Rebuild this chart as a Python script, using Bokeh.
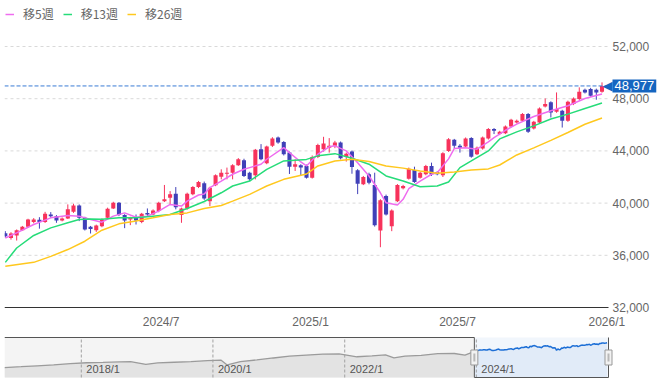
import pandas as pd
from bokeh.plotting import figure
from bokeh.layouts import column
from bokeh.models import (ColumnDataSource, Range1d, FixedTicker, Label, Legend, LegendItem)
from bokeh.embed import file_html
from bokeh.resources import INLINE
from bokeh.core.properties import value

# ---------------- data (weekly candles) ----------------
first_week = "2023-12-22"
opens = [37690, 37330, 37520, 37920, 38180, 38560, 38720, 38560, 39130, 39000,
         38670, 38820, 39330, 39820, 38870, 38180, 37920, 38230, 38870, 39590,
         40020, 39080, 38750, 38870, 38560, 39250, 39130, 39390, 40150, 40410,
         40720, 39080, 39590, 40670, 41230, 41520, 40150, 41360, 42020, 42250,
         42330, 42900, 43290, 42330, 42130, 44130, 43050, 44390, 45020, 44690,
         43870, 42790, 42900, 42850, 41950, 43540, 44130, 44250, 44390, 44640,
         43540, 43950, 42520, 41440, 42210, 41390, 37900, 40540, 38230, 40150,
         41130, 41870, 42540, 41950, 42210, 42850, 42380, 42130, 44000, 44850,
         44390, 44330, 44980, 43750, 44180, 44950, 45670, 45290, 45360, 45870,
         46180, 46310, 46820, 45720, 46180, 47410, 47720, 47000, 47080, 46310,
         47590, 47980, 48690, 48750, 48690, 48540]
highs = [37850, 37770, 37980, 38250, 38800, 38850, 38920, 39330, 39310, 39080,
         38900, 39900, 39950, 39900, 38950, 38250, 38350, 38830, 39650, 40100,
         40080, 39150, 38950, 39130, 39250, 39590, 39520, 40100, 41390, 40920,
         41230, 39650, 40800, 41300, 41700, 41650, 41250, 42200, 42590, 42720,
         42980, 43450, 43400, 42400, 44150, 44520, 44400, 45050, 45100, 44750,
         43950, 43360, 42980, 42950, 43650, 44550, 45080, 44980, 44770, 44720,
         43870, 44030, 42600, 42080, 42330, 42330, 40300, 40650, 39520, 41460,
         41400, 42720, 42790, 42400, 42930, 43100, 42450, 43900, 44980, 44920,
         44520, 45030, 45050, 44330, 45100, 45750, 45750, 45540, 45950, 46460,
         46400, 46900, 46900, 46300, 47330, 48020, 47800, 48480, 47150, 47850,
         48100, 48870, 48770, 48830, 48770, 49250]
lows = [37350, 37200, 37130, 37880, 38120, 38450, 38040, 38480, 38870, 38490,
        38600, 38780, 39250, 38620, 37900, 37670, 37790, 38150, 38800, 39550,
        39000, 38080, 38310, 38360, 38460, 39000, 39080, 39300, 40080, 39900,
        39520, 38490, 39500, 40600, 41150, 40250, 39770, 41300, 41820, 41820,
        41820, 42850, 42000, 41690, 41820, 43280, 42980, 44300, 44550, 43650,
        42230, 42460, 42080, 41880, 41880, 43450, 43950, 43870, 44210, 43350,
        43180, 42250, 40690, 41380, 41440, 38200, 36620, 39050, 37850, 40080,
        41050, 41800, 41550, 41880, 42130, 42080, 42130, 42000, 43920, 44180,
        43870, 44250, 43480, 43680, 44100, 44870, 45290, 45210, 45290, 45800,
        46100, 46230, 45380, 45640, 46100, 47330, 46560, 46920, 45790, 46230,
        47510, 47900, 48400, 48150, 47920, 48460]
closes = [37460, 37670, 37920, 38180, 38750, 38750, 38560, 39180, 39000, 38670,
          38820, 39520, 39820, 38870, 37980, 38020, 38290, 38750, 39560, 40020,
          39080, 38670, 38870, 38670, 39180, 39130, 39440, 40020, 40290, 40670,
          39690, 39590, 40720, 41230, 41620, 40350, 41180, 42130, 42330, 42330,
          42900, 43360, 42080, 41820, 44080, 43360, 44330, 44950, 44640, 43750,
          42790, 42980, 42720, 41950, 43540, 44460, 44560, 44390, 44640, 43440,
          43790, 42770, 41490, 42000, 41560, 38310, 40210, 39130, 39440, 41390,
          41310, 42640, 41620, 42330, 42850, 42210, 42210, 43820, 44900, 44390,
          44250, 44950, 43560, 44250, 45020, 45670, 45540, 45460, 45870, 46380,
          46310, 46820, 45460, 46230, 47250, 47590, 46950, 47210, 46310, 47770,
          48020, 48540, 48480, 48230, 48480, 48977]

# moving averages (week index -> value)
ma5_wk = [0, 2, 5, 8, 11, 13, 15, 17, 19, 21, 23, 25, 27, 29, 31, 32, 34, 35, 36, 38,
          40, 42, 43, 45, 46, 49, 50, 52, 53, 55, 57, 58, 60, 62, 64, 66, 67, 69, 70, 71,
          73, 75, 76, 78, 79, 81, 83, 85, 86, 88, 90, 93, 96, 99, 102, 105]
ma5_val = [37330, 37720, 38360, 38870, 39050, 39000, 38750, 38540, 39000, 39250,
           38920, 39000, 39390, 39900, 39770, 40150, 40620, 40690, 41180, 41690,
           42210, 42590, 42720, 42980, 43360, 44250, 43870, 43150, 42850, 43750,
           44310, 44390, 44000, 43100, 42080, 40790, 40020, 39850, 40290, 41100,
           41690, 42210, 42330, 43390, 44180, 44250, 44130, 44690, 45020, 45580,
           46050, 46640, 47080, 47460, 48020, 48360]
ma13_wk = [0, 2, 5, 8, 11, 13, 15, 17, 20, 23, 26, 29, 32, 35, 38, 40, 43, 46, 49, 53,
           55, 58, 61, 64, 67, 70, 73, 76, 78, 80, 82, 85, 87, 90, 93, 96, 99, 102, 105]
ma13_val = [35460, 36560, 37520, 38100, 38490, 38750, 38790, 38770, 38870, 38870,
            39000, 39130, 39590, 40120, 40790, 41310, 41690, 42590, 43230, 43350,
            43620, 43790, 43440, 42980, 42080, 41690, 41250, 41310, 41620, 42720,
            43230, 44000, 44920, 45460, 45920, 46440, 46820, 47250, 47670]
ma26_wk = [0, 5, 8, 11, 14, 17, 20, 23, 26, 29, 32, 35, 38, 40, 43, 46, 49, 53, 55, 58,
           61, 64, 67, 70, 73, 76, 79, 82, 85, 87, 90, 93, 96, 99, 102, 105]
ma26_val = [35160, 35460, 35920, 36440, 37080, 37920, 38410, 38620, 38870, 39130,
            39250, 39580, 39820, 40150, 40670, 41310, 41820, 42230, 42850, 43230,
            43360, 43180, 42850, 42680, 42460, 42290, 42390, 42540, 42620, 42920,
            43690, 44230, 44810, 45410, 46040, 46520]

series_names = ["移5週", "移13週", "移26週"]

y_ticks = [32000, 36000, 40000, 44000, 48000, 52000]
x_tick_dates = ["2024-07-01", "2025-01-01", "2025-07-01", "2026-01-01"]
x_tick_labels = ["2024/7", "2025/1", "2025/7", "2026/1"]

# navigator: longer history (read from the small overview strip)
nav_hist_dates = ["2016-11-01", "2017-02-01", "2017-05-01", "2017-08-01", "2017-11-01",
                  "2018-02-01", "2018-05-01", "2018-08-01", "2018-10-01", "2018-12-25",
                  "2019-03-01", "2019-06-01", "2019-09-01", "2019-12-01", "2020-02-14",
                  "2020-03-20", "2020-06-01", "2020-09-01", "2020-12-01", "2021-03-01",
                  "2021-06-01", "2021-09-01", "2021-12-01", "2022-03-10", "2022-06-01",
                  "2022-08-15", "2022-10-01", "2022-12-01", "2023-03-01", "2023-06-01",
                  "2023-09-01", "2023-10-30", "2023-12-15"]
nav_hist_vals = [14000, 15200, 16500, 17800, 19500, 20800, 21200, 21900, 22400, 18600,
                 20500, 21500, 22300, 23800, 24500, 17700, 22400, 24800, 27500, 30000,
                 31600, 33000, 33200, 29200, 30500, 31800, 27500, 30200, 31200, 33500,
                 33800, 31500, 36000]
nav_tick_dates = ["2018-01-01", "2020-01-01", "2022-01-01", "2024-01-01"]
nav_tick_labels = ["2018/1", "2020/1", "2022/1", "2024/1"]

# ---------------- styling constants ----------------
UP = "#f7325b"
DOWN = "#4040b8"
MA_COLORS = ["#ef6cef", "#26dc79", "#ffc81e"]
NUM_FONT = "Liberation Sans"
CJK_FONT = "Noto Sans CJK JP"
W = 657
FRAME_L = 4            # left edge of the plotting area
PLOT_R = 608           # right edge of the candle area (labels live to its right)
PLOT_TOP = 46          # pixel row of the top tick
PLOT_BOT = 307         # pixel row of the bottom tick / axis line
FRAME_BOT = 314        # bottom of the (extended) frame
BOTTOM = 21

dates = pd.date_range(first_week, periods=len(closes), freq="7D")
colors = [UP if c >= o else DOWN for o, c in zip(opens, closes)]
src = ColumnDataSource(dict(date=dates, open=opens, high=highs, low=lows,
                            close=closes, color=colors))

x_start = pd.Timestamp("2023-12-21")
x_end = pd.Timestamp("2026-01-03")

# both frames span FRAME_L..W; data areas end at PLOT_R, the strip to the right
# holds the tick texts and the price callout (so nothing is clipped)
frame_w = W - FRAME_L
content_w = PLOT_R - FRAME_L
x_range_end = x_start + (x_end - x_start) * frame_w / content_w
ppx = (y_ticks[-1] - y_ticks[0]) / (PLOT_BOT - PLOT_TOP)
y_lo = y_ticks[0] - (FRAME_BOT - PLOT_BOT) * ppx
y_hi = y_ticks[-1] + PLOT_TOP * ppx

p = figure(width=W, height=FRAME_BOT + BOTTOM, x_axis_type="datetime",
           x_range=Range1d(x_start, x_range_end), y_range=Range1d(y_lo, y_hi),
           y_axis_location=None, output_backend="svg", toolbar_location=None,
           min_border_left=FRAME_L, min_border_right=0, min_border_top=0,
           min_border_bottom=BOTTOM, outline_line_color=None)
p.grid.grid_line_color = None

tick_ms = [pd.Timestamp(d).value / 1e6 for d in x_tick_dates]
p.xaxis.ticker = FixedTicker(ticks=tick_ms)
p.xaxis.major_label_overrides = {t: l for t, l in zip(tick_ms, x_tick_labels)}
p.xaxis.axis_line_color = None
p.xaxis.major_tick_line_color = None
p.xaxis.major_tick_out = 0
p.xaxis.major_tick_in = 0
p.xaxis.minor_tick_line_color = None
p.xaxis.major_label_text_color = "#666666"
p.xaxis.major_label_text_font = NUM_FONT
p.xaxis.major_label_text_font_size = "12px"
p.xaxis.major_label_standoff = 0

# horizontal grid, axis line and y tick labels
n_t = len(y_ticks)
p.segment(x0=[x_start] * (n_t - 1), y0=y_ticks[1:], x1=[x_end] * (n_t - 1), y1=y_ticks[1:],
          line_color="#d9d9d9", line_dash="3 3", line_width=1)
p.line(x=[x_start, x_end], y=[y_ticks[0], y_ticks[0]], line_color="#333333", line_width=1.2)
p.text(x=[x_end] * n_t, y=y_ticks, text=[f"{v:,}" for v in y_ticks], x_offset=4,
       text_baseline="middle", text_align="left", text_font=value(NUM_FONT),
       text_font_size="12px", text_color="#666666")

# candles
p.segment(x0="date", y0="high", x1="date", y1="low", line_color="color",
          line_width=1, source=src)
p.vbar(x="date", width=5 * 86400000, top="open", bottom="close",
       fill_color="color", line_color=None, source=src)

# moving averages
renderers = []
for wk, vals, col in zip([ma5_wk, ma13_wk, ma26_wk], [ma5_val, ma13_val, ma26_val], MA_COLORS):
    r = p.line([dates[i] for i in wk], vals, line_color=col, line_width=1.5)
    renderers.append(r)

# last price line and callout
x_end_ms = x_end.value / 1e6
p.segment(x0=[x_start], y0=[closes[-1]], x1=[x_end], y1=[closes[-1]],
          line_color="#3a7bd5", line_dash="4 2", line_width=1)
p.add_layout(Label(x=x_end_ms, y=closes[-1], x_offset=4,
                   text=f"{closes[-1]:,}", text_color="white", text_font=NUM_FONT,
                   text_font_size="13px", text_align="left", text_baseline="middle",
                   background_fill_color="#1565c0", padding=2))
p.add_layout(Label(x=x_end_ms, y=closes[-1], x_offset=4,
                   text="◀", text_color="#1565c0", text_font="DejaVu Sans",
                   text_font_size="13px", text_align="right", text_baseline="middle"))

legend = Legend(items=[LegendItem(label=n, renderers=[r]) for n, r in zip(series_names, renderers)],
                orientation="horizontal", location=(1, FRAME_BOT - 22), glyph_width=9,
                glyph_height=12, label_height=12, label_standoff=9, spacing=9,
                padding=0, margin=0, border_line_color=None, background_fill_alpha=0,
                label_text_font=CJK_FONT, label_text_font_size="12px",
                label_text_color="#666666")
p.add_layout(legend)

# ---------------- navigator ----------------
nav_start = pd.Timestamp("2016-11-01")
nav_end = x_end
nav_top = 56350
NAV_H = 46          # navigator figure height
NAV_BOX_TOP = 2     # px from the figure top to the box top
NAV_BOX = 40        # box height in px
per_px = nav_top / NAV_BOX
nav_range_end = nav_start + (nav_end - nav_start) * frame_w / content_w

n = figure(width=W, height=NAV_H, x_axis_type="datetime",
           x_range=Range1d(nav_start, nav_range_end),
           y_range=Range1d(-(NAV_H - NAV_BOX - NAV_BOX_TOP) * per_px,
                           nav_top + NAV_BOX_TOP * per_px),
           x_axis_location=None, y_axis_location=None,
           output_backend="svg", toolbar_location=None,
           min_border_left=FRAME_L, min_border_right=0, min_border_top=0,
           min_border_bottom=0, outline_line_color=None)
n.grid.grid_line_color = None

n.quad(left=[nav_start], right=[x_start], bottom=[0], top=[nav_top],
       fill_color="#f4f4f4", line_color=None)
n.quad(left=[x_start], right=[nav_end], bottom=[0], top=[nav_top],
       fill_color="#f1f6fc", line_color=None)

gray_x = list(pd.to_datetime(nav_hist_dates)) + [dates[0]]
gray_y = nav_hist_vals + [closes[0]]
n.varea(x=gray_x, y1=[0] * len(gray_x), y2=gray_y, fill_color="#e3e3e3")
n.line(gray_x, gray_y, line_color="#9b9b9b", line_width=1.3)
n.varea(x=list(dates), y1=[0] * len(dates), y2=closes, fill_color="#e1ebf8")
n.line(list(dates), closes, line_color="#1d6fd6", line_width=1.5)

nav_ticks = list(pd.to_datetime(nav_tick_dates))
n.segment(x0=nav_ticks, y0=[0] * len(nav_ticks), x1=nav_ticks, y1=[nav_top] * len(nav_ticks),
          line_color="#a0a0a0", line_dash="3 2", line_width=1)
n.text(x=nav_ticks, y=[0] * len(nav_ticks),
       text=nav_tick_labels, x_offset=5, y_offset=-3, text_baseline="bottom",
       text_font=value(NUM_FONT), text_font_size="11px", text_color="#555555")

n.line([nav_start, x_start, x_start, nav_end, nav_end], [nav_top, nav_top, 0, 0, nav_top],
       line_color="#555555", line_width=1)
n.rect(x=[x_start, nav_end], y=[nav_top / 2] * 2, width=7, height=15,
       width_units="screen", height_units="screen", fill_color="#f2f2f2", line_color="#999999")
n.rect(x=[x_start, nav_end], y=[nav_top / 2] * 2, width=2, height=8,
       width_units="screen", height_units="screen", fill_color="#b8b8b8", line_color=None)

layout = column(p, n, spacing=0)
open("out.html", "w").write(file_html(layout, INLINE, title="chart"))
